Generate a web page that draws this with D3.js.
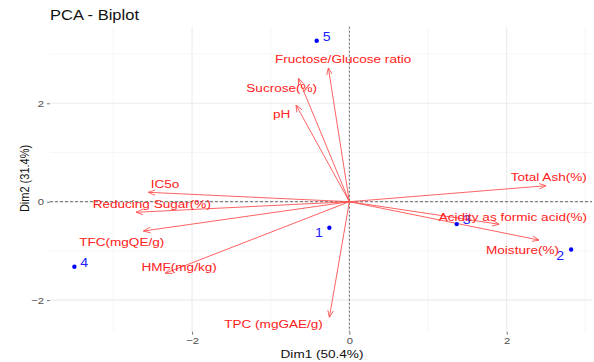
<!DOCTYPE html>
<html>
<head>
<meta charset="utf-8">
<script src="https://cdn.jsdelivr.net/npm/d3@7"></script>
<style>
  body { margin: 0; background: #fff; }
  svg { display: block; font-family: "Liberation Sans", Arial, sans-serif; }
</style>
</head>
<body>
<svg id="chart" width="594" height="362"></svg>
<script>
// ---- Data ----
const varNames = ["Fructose/Glucose ratio", "Sucrose(%)", "pH", "IC5o", "Reducing Sugar(%)", "TFC(mgQE/g)", "HMF(mg/kg)", "TPC (mgGAE/g)", "Total Ash(%)", "Acidity as formic acid(%)", "Moisture(%)"];
const varDim1 = [-0.267, -0.648, -0.678, -2.555, -2.712, -2.619, -2.343, -0.254, 2.501, 1.907, 2.412];
const varDim2 = [2.72, 2.51, 1.966, 0.191, -0.215, -0.596, -1.455, -2.351, 0.325, -0.459, -0.78];
const varLabelDim1 = [-0.080, -0.860, -0.860, -2.343, -2.512, -2.894, -2.165, -0.964, 2.535, 2.079, 2.202];
const varLabelDim2 = [2.894, 2.305, 1.783, 0.360, -0.047, -0.813, -1.321, -2.486, 0.496, -0.305, -0.982];

const indNames = ["1", "2", "3", "4", "5"];
const indDim1 = [-0.254, 2.82, 1.365, -3.496, -0.415];
const indDim2 = [-0.53, -0.97, -0.455, -1.321, 3.27];
const indLabelDim1 = [-0.386, 2.679, 1.493, -3.373, -0.287];
const indLabelDim2 = [-0.642, -1.098, -0.372, -1.240, 3.354];

const xTicks = [-2, 0, 2];
const yTicks = [-2, 0, 2];
const xMinor = [-3, -1, 1, 3];
const yMinor = [-1, 1, 3];

const title = "PCA - Biplot";
const xTitle = "Dim1 (50.4%)";
const yTitle = "Dim2 (31.4%)";

// ---- Layout ----
const SX = 1.18; // horizontal stretch of the original picture
const svg = d3.select("#chart");
const panel = { left: 50, right: 592, top: 26.7, bottom: 331.7 };
const x = d3.scaleLinear().domain([-3.806, 3.085]).range([panel.left, panel.right]);
const y = d3.scaleLinear().domain([-2.642, 3.557]).range([panel.bottom, panel.top]);

function stretch(sel) {
  sel.each(function () {
    const t = d3.select(this);
    const tx = +t.attr("x") || 0, ty = +t.attr("y") || 0;
    t.attr("x", 0).attr("y", 0).attr("transform", `translate(${tx},${ty}) scale(${SX},1)`);
  });
}

// grid
const grid = svg.append("g");
grid.selectAll(".xmin").data(xMinor).join("line")
  .attr("x1", d => x(d)).attr("x2", d => x(d)).attr("y1", panel.top).attr("y2", panel.bottom)
  .attr("stroke", "#F0F0F0").attr("stroke-width", 0.6);
grid.selectAll(".ymin").data(yMinor).join("line")
  .attr("y1", d => y(d)).attr("y2", d => y(d)).attr("x1", panel.left).attr("x2", panel.right)
  .attr("stroke", "#F0F0F0").attr("stroke-width", 0.6);
grid.selectAll(".xmaj").data(xTicks).join("line")
  .attr("x1", d => x(d)).attr("x2", d => x(d)).attr("y1", panel.top).attr("y2", panel.bottom)
  .attr("stroke", "#EBEBEB").attr("stroke-width", 1.1);
grid.selectAll(".ymaj").data(yTicks).join("line")
  .attr("y1", d => y(d)).attr("y2", d => y(d)).attr("x1", panel.left).attr("x2", panel.right)
  .attr("stroke", "#EBEBEB").attr("stroke-width", 1.1);

// axes
const xAxis = d3.axisBottom(x).tickValues(xTicks).tickSize(3).tickPadding(3).tickFormat(d3.format("d"));
const gx = svg.append("g").attr("transform", `translate(0,${panel.bottom})`).call(xAxis);
gx.select(".domain").remove();
gx.selectAll("line").attr("stroke", "#555").attr("stroke-width", 0.8);
gx.selectAll("text").attr("fill", "#4D4D4D").style("font-size", "9.5px").style("font-family", "Liberation Sans, Arial, sans-serif");
gx.selectAll("text").call(stretch);

const yAxis = d3.axisLeft(y).tickValues(yTicks).tickSize(3).tickPadding(3).tickFormat(d3.format("d"));
const gy = svg.append("g").attr("transform", `translate(${panel.left},0)`).call(yAxis);
gy.select(".domain").remove();
gy.selectAll("line").attr("stroke", "#555").attr("stroke-width", 0.8);
gy.selectAll("text").attr("fill", "#4D4D4D").style("font-size", "9.5px").style("font-family", "Liberation Sans, Arial, sans-serif");
gy.selectAll("text").call(stretch);

// reference lines at 0
svg.append("line").attr("x1", panel.left).attr("x2", panel.right).attr("y1", y(0)).attr("y2", y(0))
  .attr("stroke", "#666").attr("stroke-width", 1).attr("stroke-dasharray", "3,2");
svg.append("line").attr("x1", x(0)).attr("x2", x(0)).attr("y1", panel.top).attr("y2", panel.bottom)
  .attr("stroke", "#666").attr("stroke-width", 1).attr("stroke-dasharray", "2,2");

// arrow marker
svg.append("defs").append("marker")
  .attr("id", "arr").attr("viewBox", "0 0 10 10").attr("refX", 10).attr("refY", 5)
  .attr("markerWidth", 7).attr("markerHeight", 7).attr("markerUnits", "userSpaceOnUse")
  .attr("orient", "auto")
  .append("path").attr("d", "M0,1 L10,5 L0,9").attr("fill", "none")
  .attr("stroke", "#FF5050").attr("stroke-width", 1.2);

// variable arrows
const vars = varNames.map((n, i) => ({ n, x: varDim1[i], y: varDim2[i], lx: varLabelDim1[i], ly: varLabelDim2[i] }));
svg.append("g").selectAll("line").data(vars).join("line")
  .attr("x1", x(0)).attr("y1", y(0))
  .attr("x2", d => x(d.x)).attr("y2", d => y(d.y))
  .attr("stroke", "#FF5050").attr("stroke-width", 0.9)
  .attr("marker-end", "url(#arr)");

// individuals
const inds = indNames.map((n, i) => ({ n, x: indDim1[i], y: indDim2[i], lx: indLabelDim1[i], ly: indLabelDim2[i] }));
svg.append("g").selectAll("circle").data(inds).join("circle")
  .attr("cx", d => x(d.x)).attr("cy", d => y(d.y)).attr("r", 2.2).attr("fill", "#0000FF");
svg.append("g").selectAll("text").data(inds).join("text")
  .attr("x", d => x(d.lx)).attr("y", d => y(d.ly)).attr("dy", "0.35em")
  .attr("text-anchor", "middle").attr("fill", "#2020FF").style("font-size", "12px")
  .text(d => d.n).call(stretch);

// variable labels
svg.append("g").selectAll("text").data(vars).join("text")
  .attr("x", d => x(d.lx)).attr("y", d => y(d.ly)).attr("dy", "0.35em")
  .attr("text-anchor", "middle").attr("fill", "#FF2020").style("font-size", "11.5px")
  .text(d => d.n).call(stretch);

// titles
svg.append("text").attr("x", 50).attr("y", 20).attr("fill", "#111").style("font-size", "14px").text(title).call(stretch);
svg.append("text").attr("x", 322).attr("y", 358)
  .attr("text-anchor", "middle").attr("fill", "#111").style("font-size", "11.5px").text(xTitle).call(stretch);
svg.append("text").attr("transform", `translate(29,178.5) scale(${SX},1) rotate(-90)`)
  .attr("text-anchor", "middle").attr("fill", "#111").style("font-size", "11px").text(yTitle);
</script>
</body>
</html>
